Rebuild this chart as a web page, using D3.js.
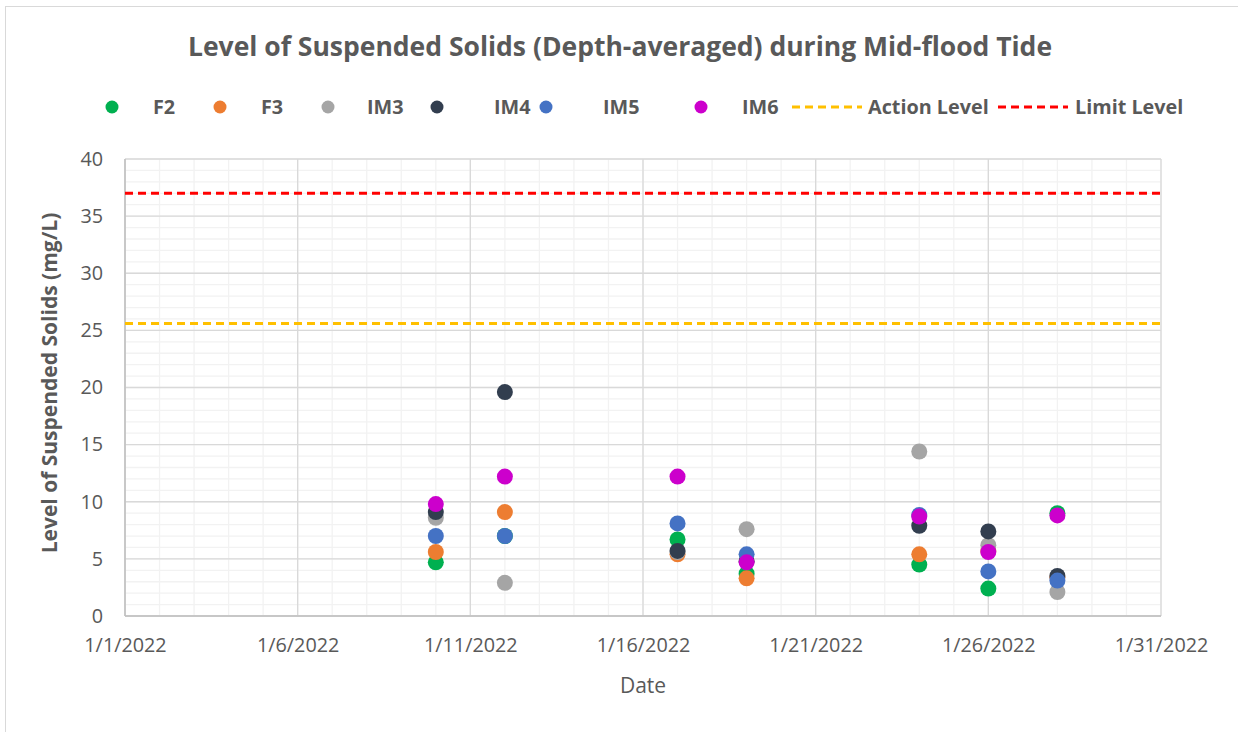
<!DOCTYPE html>
<html>
<head>
<meta charset="utf-8">
<script src="https://cdn.jsdelivr.net/npm/d3@7"></script>
<style>
  body { margin: 0; background: #fff; }
  text { font-family: "Open Sans", Lato, sans-serif; fill: #595959; }
</style>
</head>
<body>
<svg width="1238" height="732"></svg>
<script>
// 采样日期
const dates = ['2022-01-10', '2022-01-12', '2022-01-17', '2022-01-19', '2022-01-24', '2022-01-26', '2022-01-28'];

// 各站点数值 (mg/L)
const f2 = [4.7, 7.0, 6.7, 3.7, 4.5, 2.4, 9.0];
const f3 = [5.6, 9.1, 5.4, 3.3, 5.4, 5.7, 3.4];
const im3 = [8.6, 2.9, 5.6, 7.6, 14.4, 6.2, 2.1];
const im4 = [9.1, 19.6, 5.7, 4.8, 7.9, 7.4, 3.5];
const im5 = [7.0, 7.0, 8.1, 5.4, 8.85, 3.9, 3.1];
const im6 = [9.8, 12.2, 12.2, 4.7, 8.7, 5.6, 8.8];

// 限值
const actionLevel = 25.6;
const limitLevel = 37.0;

const seriesNames = ['F2', 'F3', 'IM3', 'IM4', 'IM5', 'IM6'];
const seriesValues = [f2, f3, im3, im4, im5, im6];
const seriesColors = ['#00B050', '#ED7D31', '#A5A5A5', '#323E4F', '#4472C4', '#CC00CC'];

const parse = d3.utcParse('%Y-%m-%d');

let svg = d3.select('svg');

// 外框
svg.append('rect')
  .attr('x', 5.5).attr('y', 6.5)
  .attr('width', 1240).attr('height', 740)
  .attr('fill', 'none').attr('stroke', '#d9d9d9');

// 比例尺
let x = d3.scaleUtc()
  .domain([parse('2022-01-01'), parse('2022-01-31')])
  .range([125, 1161]);
let y = d3.scaleLinear().domain([0, 40]).range([616, 159]);

// 网格 - 次要
let g = svg.append('g');
g.selectAll('.vminor')
  .data(d3.utcDay.range(parse('2022-01-01'), parse('2022-02-01')))
  .enter().append('line')
  .attr('x1', d => x(d)).attr('x2', d => x(d))
  .attr('y1', y(40)).attr('y2', y(0))
  .attr('stroke', '#f2f2f2').attr('stroke-width', 1.3);
g.selectAll('.hminor')
  .data(d3.range(0, 41))
  .enter().append('line')
  .attr('x1', x.range()[0]).attr('x2', x.range()[1])
  .attr('y1', d => y(d)).attr('y2', d => y(d))
  .attr('stroke', '#f2f2f2').attr('stroke-width', 1.3);

// 网格 - 主要
let xTicks = d3.utcDay.every(5).range(parse('2022-01-01'), parse('2022-02-01'));
g.selectAll('.vmajor')
  .data(xTicks)
  .enter().append('line')
  .attr('x1', d => x(d)).attr('x2', d => x(d))
  .attr('y1', y(40)).attr('y2', y(0))
  .attr('stroke', '#d9d9d9').attr('stroke-width', 1.3);
g.selectAll('.hmajor')
  .data(d3.range(0, 41, 5))
  .enter().append('line')
  .attr('x1', x.range()[0]).attr('x2', x.range()[1])
  .attr('y1', d => y(d)).attr('y2', d => y(d))
  .attr('stroke', '#d9d9d9').attr('stroke-width', 1.3);

// 坐标轴线
svg.append('line')
  .attr('x1', x.range()[0]).attr('x2', x.range()[1])
  .attr('y1', y(0)).attr('y2', y(0))
  .attr('stroke', '#bfbfbf').attr('stroke-width', 1.5);
svg.append('line')
  .attr('x1', x.range()[0]).attr('x2', x.range()[0])
  .attr('y1', y(40)).attr('y2', y(0))
  .attr('stroke', '#bfbfbf').attr('stroke-width', 1.5);

// 刻度标签
let xAxis = svg.append('g')
  .attr('transform', 'translate(0,' + y(0) + ')')
  .call(d3.axisBottom(x).tickValues(xTicks).tickFormat(d3.utcFormat('%-m/%-d/%Y')).tickSize(0).tickPadding(22));
let yAxis = svg.append('g')
  .attr('transform', 'translate(' + x.range()[0] + ',0)')
  .call(d3.axisLeft(y).tickValues(d3.range(0, 41, 5)).tickSize(0).tickPadding(22));
[xAxis, yAxis].forEach(a => {
  a.select('.domain').remove();
  a.selectAll('text').attr('font-size', 19.8).attr('font-family', 'Lato, sans-serif').attr('fill', '#595959');
});

// 限值线
svg.append('line')
  .attr('x1', x.range()[0]).attr('x2', x.range()[1])
  .attr('y1', y(actionLevel)).attr('y2', y(actionLevel))
  .attr('stroke', '#FFC000').attr('stroke-width', 3).attr('stroke-dasharray', '8,5');
svg.append('line')
  .attr('x1', x.range()[0]).attr('x2', x.range()[1])
  .attr('y1', y(limitLevel)).attr('y2', y(limitLevel))
  .attr('stroke', '#FF0000').attr('stroke-width', 3).attr('stroke-dasharray', '8,5');

// 数据点
seriesValues.forEach((vals, i) => {
  svg.append('g').selectAll('circle')
    .data(vals)
    .enter().append('circle')
    .attr('cx', (d, j) => x(parse(dates[j])))
    .attr('cy', d => y(d))
    .attr('r', 8)
    .attr('fill', seriesColors[i]);
});

// 标题
svg.append('text')
  .attr('x', 620).attr('y', 56)
  .attr('text-anchor', 'middle')
  .attr('font-size', 26.5).attr('font-weight', 'bold')
  .text('Level of Suspended Solids (Depth-averaged) during Mid-flood Tide');

// 坐标轴标题
svg.append('text')
  .attr('x', 643).attr('y', 693)
  .attr('text-anchor', 'middle')
  .attr('font-size', 21).attr('font-family', 'Lato, sans-serif')
  .text('Date');
svg.append('text')
  .attr('transform', 'translate(57,383) rotate(-90)')
  .attr('text-anchor', 'middle')
  .attr('font-size', 21).attr('font-weight', 'bold')
  .text('Level of Suspended Solids (mg/L)');

// 图例
let legendMarkerX = [112, 220, 328, 437, 546, 701];
let legendTextX = [153, 261, 367, 494, 603, 742];
let legend = svg.append('g');
seriesNames.forEach((name, i) => {
  legend.append('circle')
    .attr('cx', legendMarkerX[i]).attr('cy', 107).attr('r', 6.5)
    .attr('fill', seriesColors[i]);
  legend.append('text')
    .attr('x', legendTextX[i]).attr('y', 114)
    .attr('font-size', 19.8).attr('font-weight', 'bold')
    .text(name);
});
[['Action Level', '#FFC000', 792, 868], ['Limit Level', '#FF0000', 998, 1075]].forEach(([name, c, lx, tx]) => {
  legend.append('line')
    .attr('x1', lx).attr('x2', lx + 70)
    .attr('y1', 107).attr('y2', 107)
    .attr('stroke', c).attr('stroke-width', 3).attr('stroke-dasharray', '8,5');
  legend.append('text')
    .attr('x', tx).attr('y', 114)
    .attr('font-size', 19.8).attr('font-weight', 'bold')
    .text(name);
});
</script>
</body>
</html>
